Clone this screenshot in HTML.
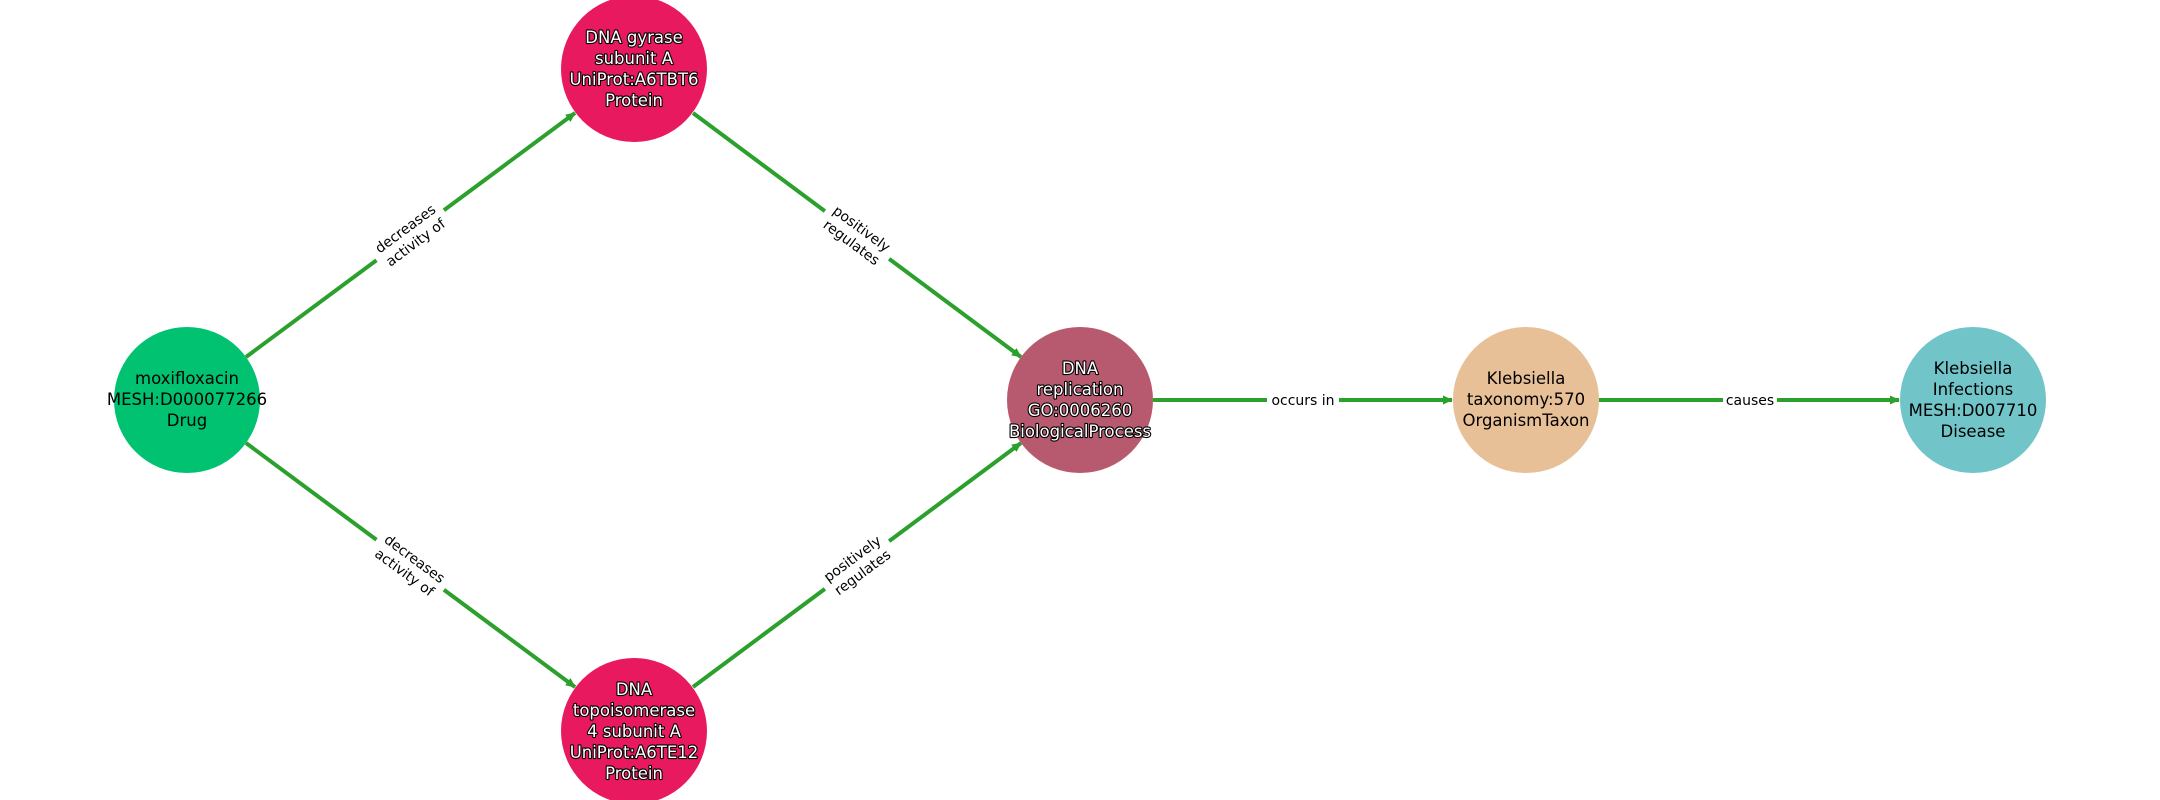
<!DOCTYPE html>
<html><head><meta charset="utf-8"><style>
html,body{margin:0;padding:0;background:#fff;}
svg{display:block;}
text{font-family:"DejaVu Sans","Liberation Sans",sans-serif;}
.n{font-size:16.5px;text-anchor:middle;fill:#000;}
.w{font-size:16.5px;text-anchor:middle;fill:#fff;stroke:#000;stroke-width:2.2px;paint-order:stroke;stroke-linejoin:round;}
.e{font-size:14px;text-anchor:middle;fill:#000;}
</style></head><body>
<svg width="2160" height="800" viewBox="0 0 2160 800" xmlns="http://www.w3.org/2000/svg">
<defs>
<marker id="a" markerWidth="12" markerHeight="12" refX="9" refY="6" orient="auto" markerUnits="userSpaceOnUse">
<path d="M0,1.5 L10,6 L0,10.5 Z" fill="#2ca02c"/>
</marker>
</defs>
<g stroke="#2ca02c" stroke-width="4" fill="none" marker-end="url(#a)">
<line x1="246" y1="357" x2="575" y2="113"/>
<line x1="246" y1="443" x2="575" y2="687"/>
<line x1="693" y1="113" x2="1021" y2="357"/>
<line x1="693" y1="687" x2="1021" y2="443"/>
<line x1="1153" y1="400" x2="1452" y2="400"/>
<line x1="1599" y1="400" x2="1899" y2="400"/>
</g>
<g transform="translate(410,235) rotate(-36.5)"><rect x="-42" y="-20" width="84" height="40" fill="#fff"/><text class="e" y="-3">decreases</text><text class="e" y="14">activity of</text></g>
<g transform="translate(410,565) rotate(36.5)"><rect x="-42" y="-20" width="84" height="40" fill="#fff"/><text class="e" y="-3">decreases</text><text class="e" y="14">activity of</text></g>
<g transform="translate(857,235) rotate(36.5)"><rect x="-40" y="-20" width="80" height="40" fill="#fff"/><text class="e" y="-3">positively</text><text class="e" y="14">regulates</text></g>
<g transform="translate(857,565) rotate(-36.5)"><rect x="-40" y="-20" width="80" height="40" fill="#fff"/><text class="e" y="-3">positively</text><text class="e" y="14">regulates</text></g>
<rect x="1267" y="390" width="72" height="20" fill="#fff"/><text class="e" x="1303" y="405">occurs in</text>
<rect x="1723" y="390" width="54" height="20" fill="#fff"/><text class="e" x="1750" y="405">causes</text>
<circle cx="187" cy="400" r="73" fill="#00c270"/>
<circle cx="634" cy="69" r="73" fill="#e8195f"/>
<circle cx="634" cy="731" r="73" fill="#e8195f"/>
<circle cx="1080" cy="400" r="73" fill="#b75a6f"/>
<circle cx="1526" cy="400" r="73" fill="#e8c097"/>
<circle cx="1973" cy="400" r="73" fill="#71c5c9"/>
<text class="n" x="187" y="384">moxifloxacin</text><text class="n" x="187" y="405">MESH:D000077266</text><text class="n" x="187" y="426">Drug</text>
<text class="w" x="634" y="43">DNA gyrase</text><text class="w" x="634" y="64">subunit A</text><text class="w" x="634" y="85">UniProt:A6TBT6</text><text class="w" x="634" y="106">Protein</text>
<text class="w" x="634" y="695">DNA</text><text class="w" x="634" y="716">topoisomerase</text><text class="w" x="634" y="737">4 subunit A</text><text class="w" x="634" y="758">UniProt:A6TE12</text><text class="w" x="634" y="779">Protein</text>
<text class="w" x="1080" y="374">DNA</text><text class="w" x="1080" y="395">replication</text><text class="w" x="1080" y="416">GO:0006260</text><text class="w" x="1080" y="437">BiologicalProcess</text>
<text class="n" x="1526" y="384">Klebsiella</text><text class="n" x="1526" y="405">taxonomy:570</text><text class="n" x="1526" y="426">OrganismTaxon</text>
<text class="n" x="1973" y="374">Klebsiella</text><text class="n" x="1973" y="395">Infections</text><text class="n" x="1973" y="416">MESH:D007710</text><text class="n" x="1973" y="437">Disease</text>
</svg>
</body></html>
